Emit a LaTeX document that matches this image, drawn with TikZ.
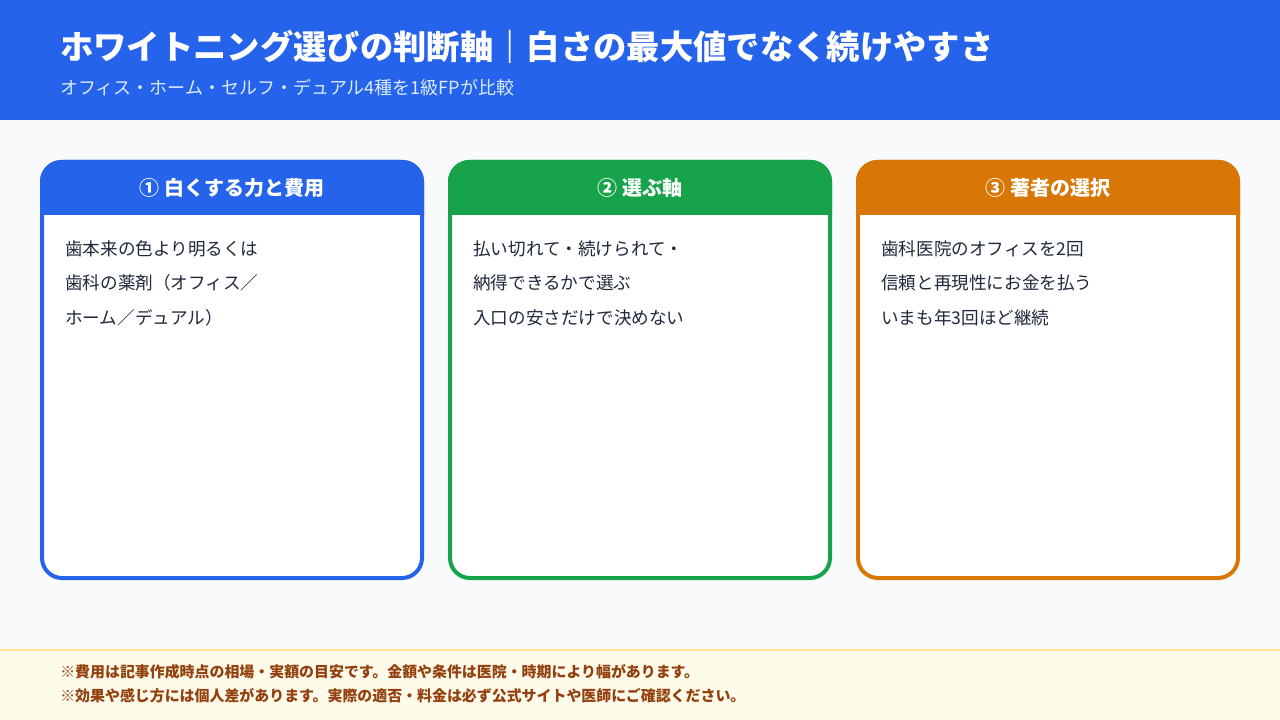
\documentclass[tikz,border=0pt]{standalone}
\usepackage{fontspec}
\setmainfont{Noto Sans CJK JP}
\begin{document}
\definecolor{hdr}{HTML}{2563EB}
\definecolor{bg}{HTML}{F8FAFC}
\definecolor{cblue}{HTML}{2563EB}
\definecolor{cgreen}{HTML}{16A34A}
\definecolor{corange}{HTML}{D97706}
\definecolor{body}{HTML}{1E293B}
\definecolor{sub}{HTML}{DBEAFE}
\definecolor{foot}{HTML}{FFFBEB}
\definecolor{footline}{HTML}{FDE68A}
\definecolor{foottext}{HTML}{92400E}
\begin{tikzpicture}[x=0.75pt,y=-0.75pt,
  ctitle/.style={text=white,font=\fontsize{15}{18}\selectfont\bfseries,anchor=center},
  cbody/.style={text=body,font=\fontsize{13.2}{26}\selectfont,anchor=north west,align=left,inner sep=0pt},
  ftext/.style={text=foottext,font=\fontsize{11.2}{18}\selectfont\bfseries,anchor=west,inner sep=0pt}]
\useasboundingbox (0,0) rectangle (1280,720);
\fill[bg] (0,0) rectangle (1280,720);
\fill[hdr] (0,0) rectangle (1280,120);
\node[anchor=west,text=white,font=\fontsize{25}{30}\selectfont\bfseries,inner sep=0pt] (title) at (60,47) {ホワイトニング選びの判断軸｜白さの最大値でなく続けやすさ};
\node[anchor=west,text=sub,font=\fontsize{13.5}{16}\selectfont,inner sep=0pt] (subtitle) at (60,88) {オフィス・ホーム・セルフ・デュアル4種を1級FPが比較};
\foreach \x/\c/\t/\b [count=\i] in {40/cblue/{① 白くする力と費用}/{歯本来の色より明るくは\\歯科の薬剤（オフィス／\\ホーム／デュアル）},
  448/cgreen/{② 選ぶ軸}/{払い切れて・続けられて・\\納得できるかで選ぶ\\入口の安さだけで決めない},
  856/corange/{③ 著者の選択}/{歯科医院のオフィスを2回\\信頼と再現性にお金を払う\\いまも年3回ほど継続}}{
  \fill[white,rounded corners=16] (\x,160) rectangle (\x+384,580);
  \fill[\c] (\x,215) [rounded corners=16] -- (\x,160) -- (\x+384,160) [sharp corners] -- (\x+384,215) -- cycle;
  \draw[\c,line width=3pt,rounded corners=15] (\x+2,162) rectangle (\x+382,578);
  \node[ctitle] (ct\i) at (\x+192,188) {\t};
  \node[cbody] (cb\i) at (\x+25,240) {\b};
}
\fill[foot] (0,650) rectangle (1280,720);
\draw[footline,line width=1.5pt] (0,650) -- (1280,650);
\node[ftext] (f1) at (60,672) {※費用は記事作成時点の相場・実額の目安です。金額や条件は医院・時期により幅があります。};
\node[ftext] (f2) at (60,696) {※効果や感じ方には個人差があります。実際の適否・料金は必ず公式サイトや医師にご確認ください。};
\end{tikzpicture}
\end{document}
